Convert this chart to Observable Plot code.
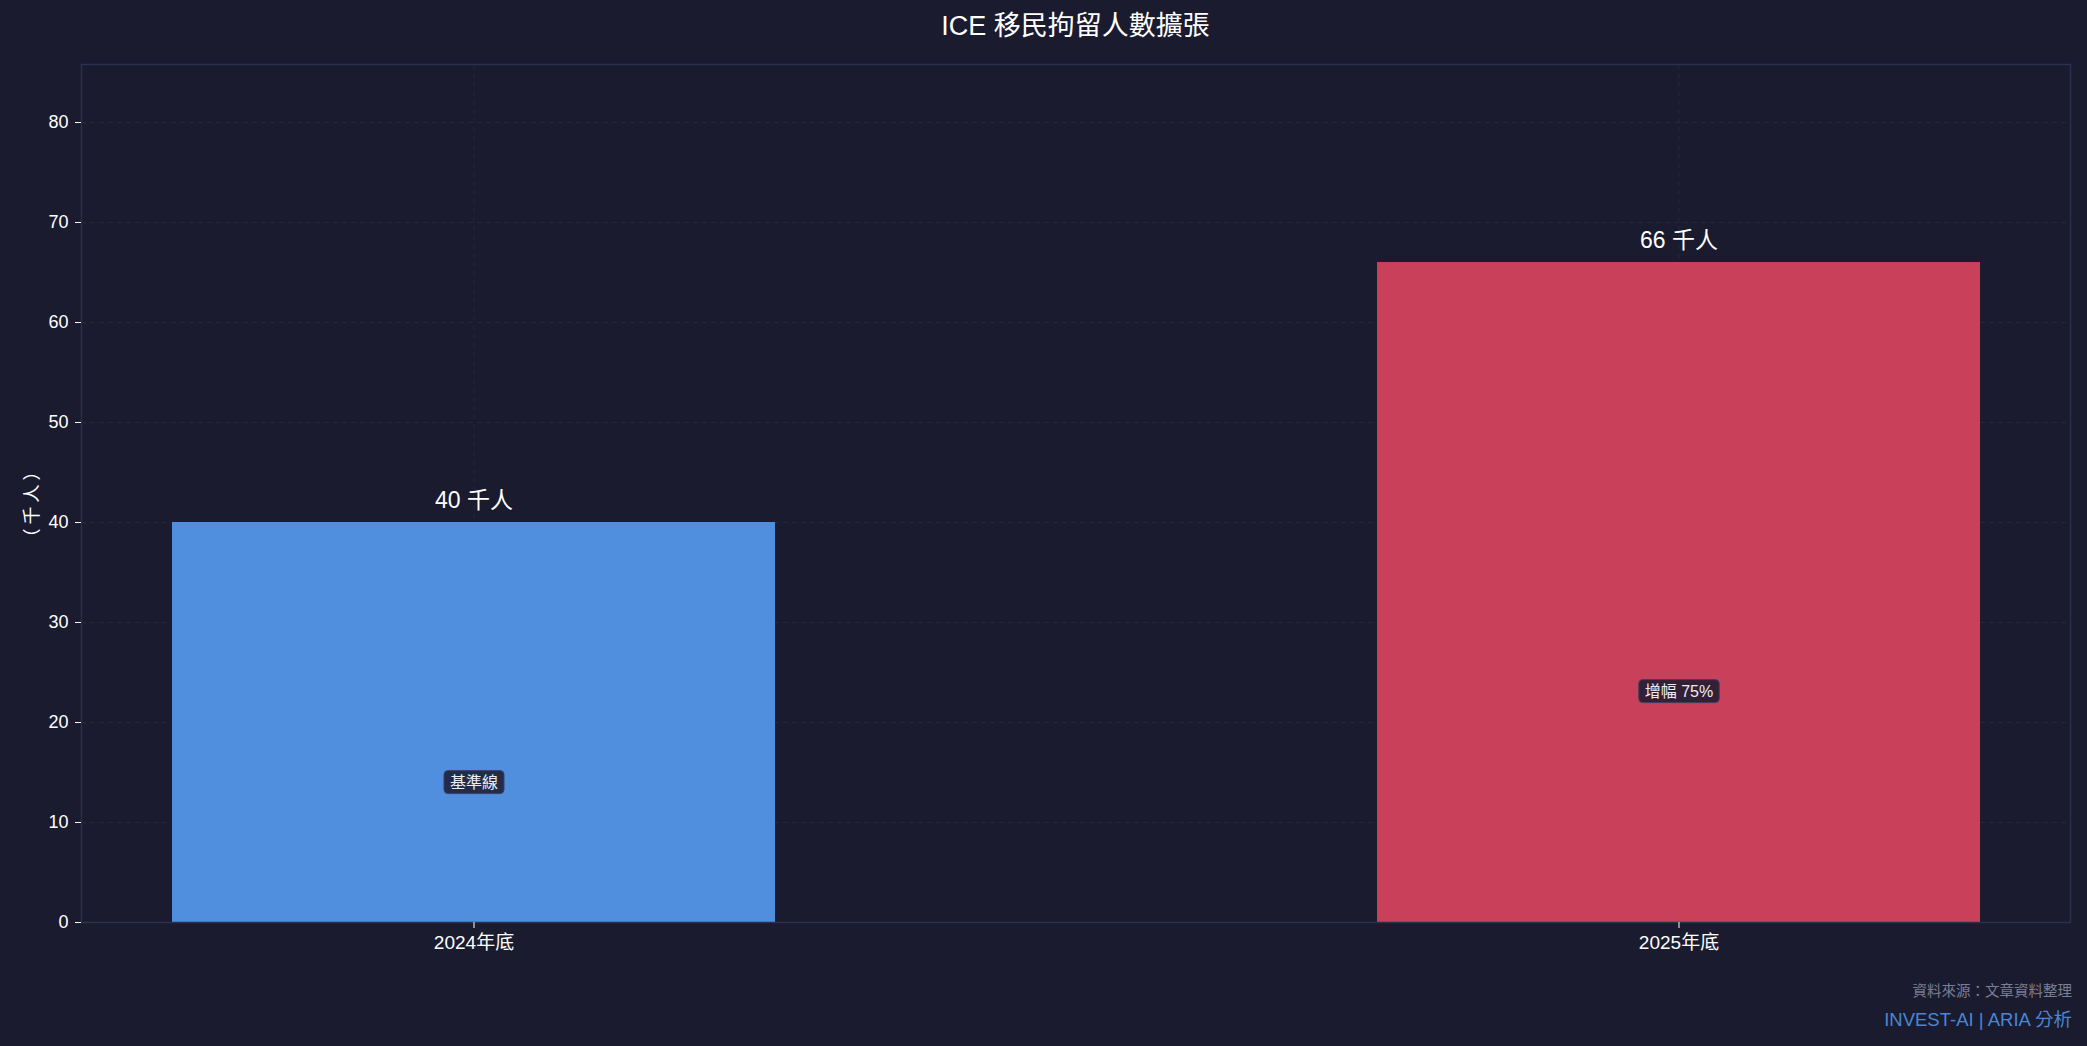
<!DOCTYPE html>
<html><head><meta charset="utf-8">
<script src="https://cdn.jsdelivr.net/npm/d3@7"></script>
<script src="https://cdn.jsdelivr.net/npm/@observablehq/plot@0.6"></script>
<style>
html,body{margin:0;padding:0;background:#1a1b2e;}
#wrap{position:relative;width:2087px;height:1046px;font-family:"Liberation Sans","Noto Sans CJK TC",sans-serif;}
#chart{position:absolute;left:0;top:0;}
.ov{position:absolute;line-height:1;white-space:nowrap;}
#title{left:81px;width:1989px;top:13px;text-align:center;font-size:27px;color:#ffffff;}
#src{right:15px;top:984px;font-size:14.5px;color:#7c7f93;}
#brand{right:15px;top:1011px;font-size:18.5px;color:#4a86d4;}
</style>
</head><body>
<div id="wrap">
  <div id="chart"></div>
  <div class="ov" id="title">ICE 移民拘留人數擴張</div>
  <div class="ov" id="src">資料來源：文章資料整理</div>
  <div class="ov" id="brand">INVEST-AI | ARIA 分析</div>
</div>
<script>
const categories = ["2024年底", "2025年底"];
const values = [40, 66];
const valueLabels = ["40 千人", "66 千人"];
const badgeLabels = ["基準線", "增幅 75%"];
const barColors = ["#4f8fde", "#c9405a"];
const yTicks = [0, 10, 20, 30, 40, 50, 60, 70, 80];
const yLabel = "（千人）";

const data = categories.map((c, i) => ({cat: c, v: values[i], label: valueLabels[i], badge: badgeLabels[i], color: barColors[i]}));
const yMax = d3.max(values) * 1.3;

const svg = Plot.plot({
  width: 2087,
  height: 1046,
  marginTop: 64,
  marginBottom: 124,
  marginLeft: 81,
  marginRight: 17,
  style: {background: "#1a1b2e", color: "#ffffff", fontFamily: '"Liberation Sans","Noto Sans CJK TC",sans-serif', fontSize: "17px"},
  x: {type: "band", domain: categories, paddingInner: 0.5, paddingOuter: 0.075, label: null},
  y: {domain: [0, yMax], label: null},
  marks: [
    Plot.gridY(yTicks, {stroke: "#ffffff", strokeOpacity: 0.05, strokeDasharray: "5,4"}),
    Plot.gridX(categories, {stroke: "#ffffff", strokeOpacity: 0.05, strokeDasharray: "5,4"}),
    Plot.barY(data, {x: "cat", y: "v", fill: "color"}),
    Plot.frame({stroke: "#2c2f4d", strokeWidth: 1.5}),
    Plot.axisY(yTicks, {tickSize: 6, tickPadding: 7, stroke: "#ffffff", fill: "#ffffff", fontSize: 18, label: null}),
    Plot.axisX({tickSize: 6, tickPadding: 7, stroke: "#ffffff", fill: "#ffffff", fontSize: 19, label: null}),
    Plot.text([yLabel], {frameAnchor: "left", dx: -49, dy: 9, rotate: -90, textAnchor: "middle", fill: "#ffffff", fontSize: 18, fontFamily: '"Noto Sans CJK JP",sans-serif'}),
    Plot.text(data, {x: "cat", y: "v", text: "label", dy: -22, lineAnchor: "middle", fill: "#ffffff", fontSize: 23}),
    Plot.text(data, {x: "cat", y: d => d.v * 0.35, text: "badge", lineAnchor: "middle", fill: "#ececf2", fontSize: 16})
  ]
});
document.getElementById("chart").append(svg);
svg.querySelectorAll("text").forEach(t => {
  if (t.textContent === yLabel) t.setAttribute("letter-spacing", "4");
  if (!badgeLabels.includes(t.textContent)) return;
  const b = t.getBBox();
  const r = document.createElementNS("http://www.w3.org/2000/svg", "rect");
  r.setAttribute("x", b.x - 6);
  r.setAttribute("y", b.y - 3);
  r.setAttribute("width", b.width + 12);
  r.setAttribute("height", b.height + 6);
  r.setAttribute("rx", 4);
  r.setAttribute("fill", "#1a1b2e");
  r.setAttribute("fill-opacity", 0.85);
  r.setAttribute("stroke", "#3c4066");
  r.setAttribute("stroke-width", 1);
  const tr = t.getAttribute("transform");
  if (tr) r.setAttribute("transform", tr);
  t.parentNode.insertBefore(r, t);
});
</script>
</body></html>
